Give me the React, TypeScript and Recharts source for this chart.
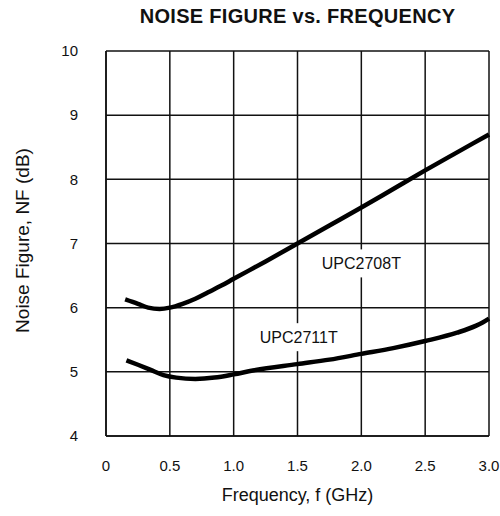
import React from 'react';
import { LineChart, Line, XAxis, YAxis, CartesianGrid, ReferenceDot } from 'recharts';

// frequency (GHz) / noise figure (dB)
const freq2708 = [0.15, 0.25, 0.33, 0.42, 0.5, 0.6, 0.7, 0.8, 0.9, 1.0, 1.25, 1.5, 1.75, 2.0, 2.25, 2.5, 2.75, 3.0];
const nf2708 = [6.13, 6.06, 6.0, 5.98, 6.0, 6.06, 6.14, 6.24, 6.34, 6.45, 6.72, 7.0, 7.28, 7.56, 7.85, 8.14, 8.42, 8.7];

const freq2711 = [0.16, 0.25, 0.35, 0.45, 0.55, 0.7, 0.85, 1.0, 1.15, 1.5, 1.75, 2.0, 2.25, 2.5, 2.75, 2.9, 2.95, 3.0];
const nf2711 = [5.18, 5.11, 5.03, 4.95, 4.91, 4.89, 4.91, 4.96, 5.02, 5.12, 5.19, 5.28, 5.37, 5.48, 5.61, 5.72, 5.77, 5.83];

const xTicks = [0, 0.5, 1.0, 1.5, 2.0, 2.5, 3.0];
const yTicks = [4, 5, 6, 7, 8, 9, 10];

// curve labels: [name, freq, nf]
const curveLabels: [string, number, number][] = [
  ['UPC2708T', 2.0, 6.69],
  ['UPC2711T', 1.51, 5.54],
];

const data2708 = freq2708.map((f, i) => ({ f, nf: nf2708[i] }));
const data2711 = freq2711.map((f, i) => ({ f, nf: nf2711[i] }));

const FONT = '"Liberation Sans", Arial, Helvetica, sans-serif';

function CurveLabel(props: any) {
  const { cx, cy, text } = props;
  return (
    <g>
      <rect x={cx - 45} y={cy - 14} width={90} height={28} fill="#fff" />
      <text x={cx} y={cy} textAnchor="middle" dominantBaseline="central" fontSize={16} fontFamily={FONT} fill="#111">
        {text}
      </text>
    </g>
  );
}

export default function App() {
  return (
    <div style={{ position: 'absolute', left: 0, top: 0, width: 500, height: 516, background: '#fff', fontFamily: FONT }}>
      <div style={{ position: 'absolute', left: 106, width: 383, top: 5, textAlign: 'center', fontSize: 20, fontWeight: 'bold', letterSpacing: 0.3, color: '#111' }}>
        NOISE FIGURE vs. FREQUENCY
      </div>
      <LineChart width={500} height={516} margin={{ top: 51, right: 11, bottom: 0, left: 0 }}>
        <CartesianGrid stroke="#111" strokeWidth={1.5} />
        <XAxis
          type="number"
          dataKey="f"
          domain={[0, 3]}
          ticks={xTicks}
          height={80}
          axisLine={{ stroke: '#111', strokeWidth: 1.5 }}
          tickLine={false}
          tickMargin={18}
          tick={{ fill: '#111', fontSize: 15, fontFamily: FONT }}
          tickFormatter={(v) => (v === 0 ? '0' : v.toFixed(1))}
          label={{ value: 'Frequency, f (GHz)', position: 'center', dy: 19, fill: '#111', fontSize: 18, fontFamily: FONT }}
        />
        <YAxis
          type="number"
          domain={[4, 10]}
          ticks={yTicks}
          width={106}
          axisLine={{ stroke: '#111', strokeWidth: 1.5 }}
          tickLine={false}
          tickMargin={22}
          tick={{ fill: '#111', fontSize: 15, fontFamily: FONT }}
          label={{ value: 'Noise Figure, NF (dB)', angle: -90, position: 'center', dx: -31, dy: -3, fill: '#111', fontSize: 19, fontFamily: FONT }}
        />
        <Line data={data2708} dataKey="nf" type="monotone" stroke="#000" strokeWidth={4.5} dot={false} isAnimationActive={false} />
        <Line data={data2711} dataKey="nf" type="monotone" stroke="#000" strokeWidth={4.5} dot={false} isAnimationActive={false} />
        {curveLabels.map(([name, f, nf]) => (
          <ReferenceDot key={name} x={f} y={nf} r={0} shape={(p: any) => <CurveLabel {...p} text={name} />} />
        ))}
      </LineChart>
    </div>
  );
}
